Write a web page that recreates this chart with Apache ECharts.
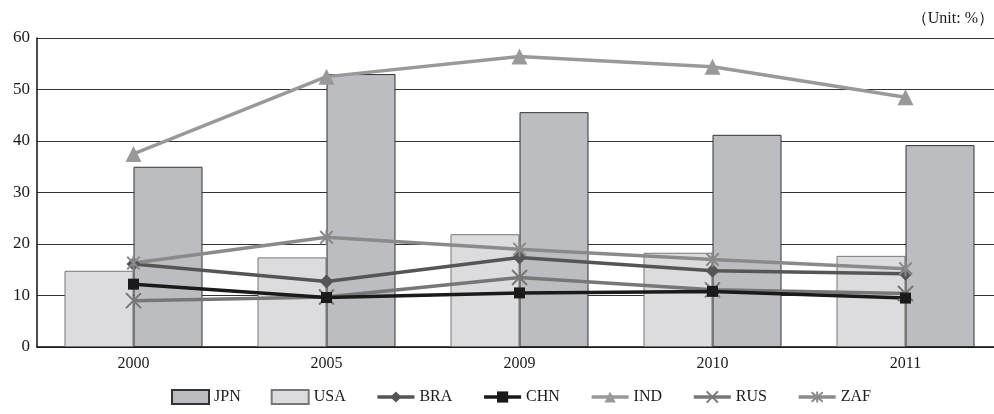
<!DOCTYPE html>
<html>
<head>
<meta charset="utf-8">
<script src="https://cdn.jsdelivr.net/npm/echarts@6/dist/echarts.min.js"></script>
<style>
  html, body { margin: 0; padding: 0; background: #fff; }
  #chart { width: 994px; height: 414px; }
</style>
</head>
<body>
<div id="chart"></div>
<script>
const years = ['2000', '2005', '2009', '2010', '2011']
const jpn = [35.0, 53.0, 45.6, 41.2, 39.2]
const usa = [14.8, 17.4, 21.9, 18.3, 17.7]
const bra = [16.1, 12.7, 17.4, 14.8, 14.2]
const chn = [12.2, 9.6, 10.5, 10.8, 9.5]
const ind = [37.5, 52.5, 56.4, 54.4, 48.5]
const rus = [9.0, 9.7, 13.5, 11.1, 10.4]
const zaf = [16.3, 21.3, 19.0, 17.0, 15.2]
const yTicks = [0, 10, 20, 30, 40, 50, 60]

const serif = '"Liberation Serif", "DejaVu Serif", serif'
const crossPath = 'path://M0,0L10,10M10,0L0,10'
const starPath = 'path://M0,0L10,10M10,0L0,10M5,-1L5,11'

var myChart = echarts.init(document.getElementById('chart'))

const lineSeries = (name, data, color, symbol, size, stroke) => {
  return {
    name: name,
    type: 'line',
    data: data,
    symbol: symbol,
    symbolSize: size,
    symbolKeepAspect: true,
    lineStyle: { color: color, width: 3.5 },
    itemStyle: stroke
      ? { color: color, borderColor: color, borderWidth: 2 }
      : { color: color },
    z: 5,
  }
}

var option = {
  animation: false,
  grid: { left: 37, top: 38, width: 965, height: 309, outerBoundsMode: 'none' },
  graphic: [
    {
      type: 'text',
      right: 0,
      top: 11,
      style: { text: '（Unit: %）', font: '16px ' + serif, fill: '#1a1a1a' },
    },
  ],
  legend: {
    left: 166,
    bottom: 4,
    itemWidth: 37,
    itemHeight: 14,
    itemGap: 30,
    lineStyle: { width: 3.5 },
    textStyle: { fontFamily: serif, fontSize: 16, color: '#1a1a1a' },
    data: [
      { name: 'JPN', icon: 'rect' },
      { name: 'USA', icon: 'rect' },
      'BRA', 'CHN', 'IND', 'RUS', 'ZAF',
    ],
  },
  xAxis: {
    type: 'category',
    data: years,
    axisLine: { lineStyle: { color: '#111', width: 1.5 } },
    axisTick: { show: false },
    axisLabel: { fontFamily: serif, fontSize: 16, color: '#1a1a1a', margin: 9 },
  },
  yAxis: {
    type: 'value',
    min: yTicks[0],
    max: yTicks[yTicks.length - 1],
    interval: 10,
    axisLine: { show: true, lineStyle: { color: '#111', width: 1.5 } },
    axisTick: { show: false },
    axisLabel: { fontFamily: serif, fontSize: 17, color: '#1a1a1a', margin: 7 },
    splitLine: { lineStyle: { color: '#333', width: 1 } },
  },
  series: [
    {
      name: 'USA',
      type: 'bar',
      data: usa,
      barWidth: 69,
      barGap: '0%',
      itemStyle: { color: '#dcdcde', borderColor: '#777', borderWidth: 1 },
    },
    {
      name: 'JPN',
      type: 'bar',
      data: jpn,
      barWidth: 69,
      barGap: '0%',
      itemStyle: { color: '#bcbdc1', borderColor: '#333', borderWidth: 1 },
    },
    lineSeries('RUS', rus, '#777', crossPath, 15, true),
    lineSeries('CHN', chn, '#1a1a1a', 'rect', 11, false),
    lineSeries('BRA', bra, '#555', 'diamond', 14, false),
    lineSeries('ZAF', zaf, '#8a8a8a', starPath, 15, true),
    lineSeries('IND', ind, '#999', 'triangle', 16, false),
  ],
}

myChart.setOption(option)
</script>
</body>
</html>
